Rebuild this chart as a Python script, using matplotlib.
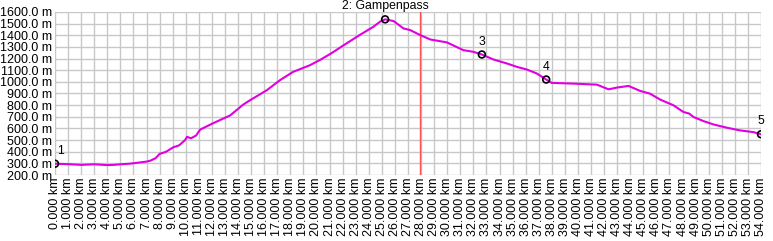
import numpy as np
import matplotlib
matplotlib.use('Agg')
import matplotlib.pyplot as plt

plt.rcParams['font.family'] = ['Liberation Sans', 'DejaVu Sans']

# elevation profile (km, m)
dist_km = [0, 0.5, 1, 2, 3, 4, 4.5, 5, 5.7, 6.3, 7, 7.3, 7.7, 8.0, 8.5, 9.05, 9.5, 9.95, 10.1,
           10.4, 10.8, 11.1, 12.1, 13.4, 14.4, 14.9, 16.2, 17.2, 18.2, 19.5, 20.3, 21.2, 22.1,
           23.3, 24.35, 24.9, 25.25, 25.9, 26.65, 27.16, 27.93, 28.7, 29.97, 31.24, 32.0, 32.65,
           33.54, 34.56, 35.32, 36.09, 36.85, 37.57, 38.0, 39.66, 41.45, 42.34, 42.98, 43.87,
           44.76, 45.5, 46.3, 47.3, 48.07, 48.5, 48.84, 49.6, 50.37, 51.4, 52.4, 53.43, 54.0]
elev_m = [297, 295, 293, 287, 292, 285, 287, 292, 297, 305, 315, 323, 345, 381, 400, 438, 455,
          500, 528, 515, 540, 590, 645, 712, 805, 841, 928, 1014, 1085, 1143, 1190, 1250, 1316,
          1402, 1473, 1520, 1537, 1522, 1459, 1445, 1402, 1364, 1339, 1272, 1258, 1235,
          1192, 1158, 1129, 1106, 1072, 1020, 991, 985, 976, 936, 951, 965,
          922, 899, 847, 799, 741, 728, 698, 663, 634, 606, 583, 568, 550]

# waypoints
wp_km = [0, 25.25, 32.65, 37.57, 54.0]
wp_m = [297, 1537, 1235, 1020, 550]
wp_labels = ['1', '2: Gampenpass', '3', '4', '5']

marker_km = 27.93

fig = plt.figure(figsize=(7.73, 2.41), dpi=100)
ax = fig.add_axes([55 / 773, 66 / 241, 706 / 773, 163 / 241])

ax.plot(dist_km, elev_m, color='#e000e0', lw=1.5, zorder=3)
ax.axvline(marker_km, color='#ff5050', lw=1, zorder=2)
ax.scatter(wp_km, wp_m, s=24, facecolors='none', edgecolors='black', linewidths=1.2, zorder=4)
for x, y, t in zip(wp_km, wp_m, wp_labels):
    dx = 4 if x == 0 else 0
    ax.annotate(t, (x, y), xytext=(dx, 5), textcoords='offset points',
                ha='center', va='bottom', fontsize=8.8, annotation_clip=False)

ax.set_xlim(0, 54)
ax.set_ylim(200, 1600)
xt = np.arange(0, 55, 1)
ax.set_xticks(xt)
ax.set_xticklabels([f'{v:.3f} km' for v in xt], rotation=90, fontsize=9)
yt = np.arange(200, 1601, 100)
ax.set_yticks(yt)
ax.set_yticklabels([f'{v:.1f} m' for v in yt], fontsize=9)
ax.tick_params(length=0, pad=2)
ax.grid(True, color='#c8c8c8', lw=1)
for s in ax.spines.values():
    s.set_visible(False)

fig.savefig('out.png', dpi=100)
